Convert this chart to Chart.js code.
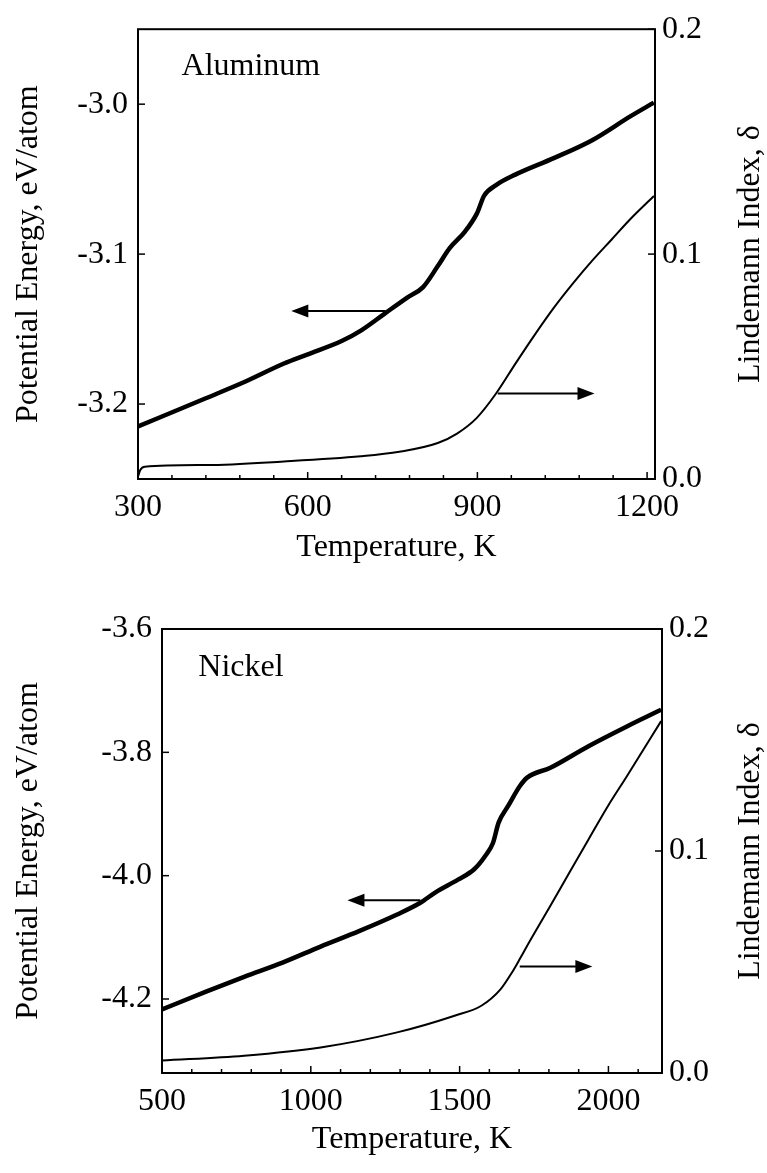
<!DOCTYPE html>
<html>
<head>
<meta charset="utf-8">
<script src="https://cdn.jsdelivr.net/npm/chart.js@4.4.1/dist/chart.umd.min.js"></script>
<style>
  html, body { margin: 0; padding: 0; background: #fff; }
  .panel { position: absolute; left: 0; width: 767px; }
  #top { top: 0; height: 590px; }
  #bottom { top: 590px; height: 583px; }
</style>
</head>
<body>
<div class="panel" id="top"><canvas id="alChart" width="767" height="590"></canvas></div>
<div class="panel" id="bottom"><canvas id="niChart" width="767" height="583"></canvas></div>
<script>
// Aluminum: potential energy (eV/atom) and Lindemann index vs temperature (K)
const alPeT = [300, 421, 490, 558, 599, 660, 694, 735, 776, 804, 830, 851, 878, 899, 912, 933, 967, 1035, 1103, 1171, 1212];
const alPe  = [-3.215, -3.196, -3.185, -3.173, -3.167, -3.158, -3.151, -3.140, -3.129, -3.122, -3.108, -3.096, -3.085, -3.073, -3.061, -3.054, -3.047, -3.036, -3.024, -3.008, -2.999];
const alLiT = [300, 304, 312, 421, 558, 694, 762, 830, 864, 899, 933, 967, 1001, 1035, 1069, 1103, 1137, 1171, 1212];
const alLi  = [0.001, 0.004, 0.0055, 0.0062, 0.0078, 0.0101, 0.0121, 0.016, 0.0202, 0.0272, 0.038, 0.0512, 0.064, 0.0761, 0.087, 0.0971, 0.1064, 0.1157, 0.1258];
const alXTicks = [300, 600, 900, 1200];
const alPeTicks = [-3.2, -3.1, -3.0];

// Nickel
const niPeT = [500, 648, 776, 905, 1033, 1162, 1290, 1368, 1419, 1496, 1548, 1586, 1612, 1631, 1663, 1702, 1727, 1805, 1933, 2062, 2177];
const niPe  = [-4.217, -4.188, -4.164, -4.141, -4.115, -4.090, -4.063, -4.044, -4.027, -4.006, -3.990, -3.968, -3.947, -3.914, -3.887, -3.855, -3.841, -3.825, -3.790, -3.758, -3.731];
const niLiT = [500, 776, 1033, 1290, 1483, 1573, 1638, 1676, 1702, 1727, 1805, 1869, 1933, 1998, 2062, 2177];
const niLi  = [0.0056, 0.0078, 0.0115, 0.0183, 0.0258, 0.0303, 0.0378, 0.0453, 0.0513, 0.0573, 0.0753, 0.0903, 0.1052, 0.1202, 0.1337, 0.1585];
const niXTicks = [500, 1000, 1500, 2000];
const niPeTicks = [-4.2, -4.0, -3.8, -3.6];

const liTicks = [0.0, 0.1, 0.2];

const FONT = '"Liberation Serif", "Times New Roman", serif';
const FS = 32;

// frame, inward tick marks, arrows, panel name and right-hand title
const framePlugin = {
  id: 'frame',
  afterDatasetsDraw(chart, args, o) {
    const { ctx, chartArea: a, scales } = chart;
    const seg = (x0, y0, x1, y1) => { ctx.beginPath(); ctx.moveTo(x0, y0); ctx.lineTo(x1, y1); ctx.stroke(); };
    ctx.save();
    ctx.strokeStyle = '#000';
    ctx.fillStyle = '#000';

    ctx.lineWidth = 1.5;
    for (let v = o.xMin; v <= o.xMax; v += o.xMinorStep) {
      const px = scales.x.getPixelForValue(v);
      const len = o.xTicks.includes(v) ? 7 : 4;
      seg(px, a.bottom, px, a.bottom - len);
    }
    o.peTicks.forEach(v => {
      const py = scales.yPE.getPixelForValue(v);
      seg(a.left, py, a.left + 7, py);
    });
    liTicks.forEach(v => {
      const py = scales.yLi.getPixelForValue(v);
      seg(a.right, py, a.right - 7, py);
    });

    ctx.lineWidth = 2;
    ctx.strokeRect(a.left, a.top, a.right - a.left, a.bottom - a.top);

    o.arrows.forEach(ar => {
      const y = scales[ar.axis].getPixelForValue(ar.y);
      const x0 = scales.x.getPixelForValue(ar.from);
      const x1 = scales.x.getPixelForValue(ar.to);
      const dir = Math.sign(x1 - x0);
      ctx.lineWidth = 2;
      seg(x0, y, x1 - dir * 14, y);
      ctx.beginPath();
      ctx.moveTo(x1, y);
      ctx.lineTo(x1 - dir * 17, y - 6.5);
      ctx.lineTo(x1 - dir * 17, y + 6.5);
      ctx.closePath();
      ctx.fill();
    });

    ctx.font = FS + 'px ' + FONT;
    ctx.textAlign = 'left';
    ctx.textBaseline = 'middle';
    ctx.fillText(o.name, scales.x.getPixelForValue(o.nameX), scales.yPE.getPixelForValue(o.nameY));

    ctx.translate(o.rightTitleX, (a.top + a.bottom) / 2);
    ctx.rotate(-Math.PI / 2);
    ctx.textAlign = 'center';
    ctx.fillText('Lindemann Index, δ', 0, 0);
    ctx.restore();
  }
};

function buildChart(id, p) {
  const tickFont = { family: FONT, size: FS };
  const hidden = { display: false, drawTicks: false };
  return new Chart(document.getElementById(id), {
    type: 'line',
    data: {
      datasets: [
        {
          data: p.peT.map((t, i) => ({ x: t, y: p.pe[i] })),
          yAxisID: 'yPE', borderColor: '#000', borderWidth: 4.5,
          pointRadius: 0, tension: 0.3, cubicInterpolationMode: 'monotone'
        },
        {
          data: p.liT.map((t, i) => ({ x: t, y: p.li[i] })),
          yAxisID: 'yLi', borderColor: '#000', borderWidth: 2,
          pointRadius: 0, tension: 0.3, cubicInterpolationMode: 'monotone'
        }
      ]
    },
    options: {
      responsive: false,
      animation: false,
      layout: { padding: { top: p.padTop, left: 0, right: 0, bottom: 0 } },
      plugins: {
        legend: { display: false },
        tooltip: { enabled: false },
        frame: {
          xMin: p.xMin, xMax: p.xMax, xMinorStep: p.xMinorStep, xTicks: p.xTicks,
          peTicks: p.peTicks, arrows: p.arrows,
          name: p.name, nameX: p.nameX, nameY: p.nameY, rightTitleX: 751
        }
      },
      scales: {
        x: {
          type: 'linear', min: p.xMin, max: p.xEnd,
          afterBuildTicks: s => { s.ticks = p.xTicks.map(v => ({ value: v })); },
          afterFit: s => { s.height = p.xAxisHeight; },
          grid: hidden, border: { display: false },
          ticks: { color: '#000', font: tickFont, padding: 9, maxRotation: 0, autoSkip: false, callback: v => String(v) },
          title: { display: true, text: 'Temperature, K', color: '#000', font: tickFont, padding: { top: 0, bottom: p.xTitlePad } }
        },
        yPE: {
          type: 'linear', position: 'left', min: p.peMin, max: p.peMax,
          afterBuildTicks: s => { s.ticks = p.peTicks.map(v => ({ value: v })); },
          afterFit: s => { s.width = p.leftWidth; },
          grid: hidden, border: { display: false },
          ticks: { color: '#000', font: tickFont, padding: 10, callback: v => v.toFixed(1) },
          title: { display: true, text: 'Potential Energy, eV/atom', color: '#000', font: tickFont, padding: { top: 9, bottom: 0 } }
        },
        yLi: {
          type: 'linear', position: 'right', min: 0, max: 0.2,
          afterBuildTicks: s => { s.ticks = liTicks.map(v => ({ value: v })); },
          afterFit: s => { s.width = p.rightWidth; },
          grid: hidden, border: { display: false },
          ticks: { color: '#000', font: tickFont, padding: 7, callback: v => v.toFixed(1) }
        }
      }
    },
    plugins: [framePlugin]
  });
}

buildChart('alChart', {
  peT: alPeT, pe: alPe, liT: alLiT, li: alLi,
  xMin: 300, xMax: 1200, xEnd: 1214, xMinorStep: 60, xTicks: alXTicks,
  peMin: -3.25, peMax: -2.95, peTicks: alPeTicks,
  padTop: 20, xAxisHeight: 111, xTitlePad: 23, leftWidth: 138, rightWidth: 112,
  name: 'Aluminum', nameX: 377, nameY: -2.975,
  arrows: [
    { axis: 'yPE', y: -3.138, from: 738, to: 571 },
    { axis: 'yLi', y: 0.038, from: 936, to: 1107 }
  ]
});

buildChart('niChart', {
  peT: niPeT, pe: niPe, liT: niLiT, li: niLi,
  xMin: 500, xMax: 2100, xEnd: 2180, xMinorStep: 100, xTicks: niXTicks,
  peMin: -4.32, peMax: -3.6, peTicks: niPeTicks,
  padTop: 39, xAxisHeight: 100, xTitlePad: 14, leftWidth: 162, rightWidth: 105,
  name: 'Nickel', nameX: 622, nameY: -3.662,
  arrows: [
    { axis: 'yPE', y: -4.040, from: 1368, to: 1123 },
    { axis: 'yLi', y: 0.048, from: 1702, to: 1946 }
  ]
});
</script>
</body>
</html>
